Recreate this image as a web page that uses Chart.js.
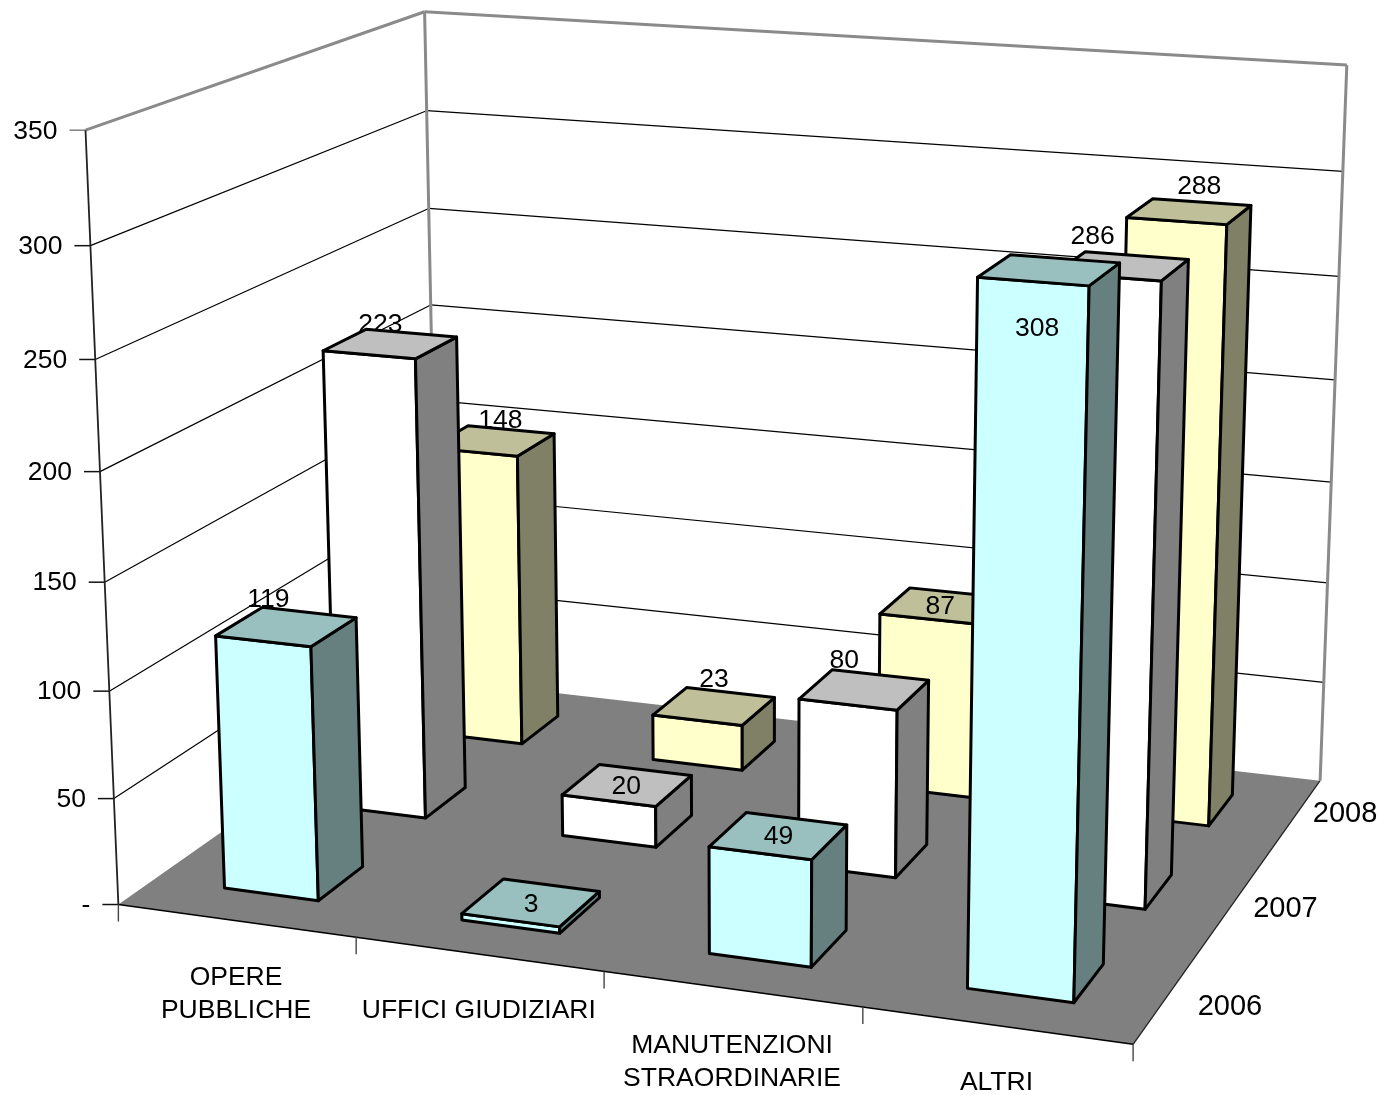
<!DOCTYPE html>
<html>
<head>
<meta charset="utf-8">
<style>html,body{margin:0;padding:0;background:#fff}canvas{display:block}</style>
<script src="https://cdn.jsdelivr.net/npm/chart.js@4"></script>
</head>
<body>
<canvas id="c" width="1384" height="1095"></canvas>
<script>
const categories = [['OPERE','PUBBLICHE'],['UFFICI GIUDIZIARI'],['MANUTENZIONI','STRAORDINARIE'],['ALTRI']];
const years = ['2006','2007','2008'];
const values2006 = [119, 3, 49, 308];
const values2007 = [223, 20, 80, 286];
const values2008 = [148, 23, 87, 288];

// styling per year: front, top, side
const faceColors = ['#CCFFFF','#FFFFFF','#FFFFCC'];
const topColors = ['#99BFBF','#BFBFBF','#BFBF99'];
const sideColors = ['#668080','#808080','#808066'];
// value-label nudges from the centre of each bar's top face, in pixels
const labelNudge = [
  [[-18,-27],[0,2],[0,1],[-12,59]],
  [[-10,-19],[-1,2],[-20,-29],[-30,-29]],
  [[8,-20],[0,-27],[-1,1],[10,-25]]
];
const labelBehindBar = [[0,0,0,0],[1,0,0,0],[1,0,0,0]];
// year-label nudges from the floor's right edge, in pixels
const yearNudge = [[61,13],[51,8],[52,-5]];

// The box of the 3D view: (u along categories, v up the value axis, w into depth) -> canvas
const viewBox = [
  [0,0,0,118,905],[1,0,0,1133,1044],[1,0,1,1320,781],[0,0,1,439,679],
  [0,1,0,86,130],[0,1,1,424,12],[1,1,1,1347,65]
];
const FAMILY = '"Liberation Sans", Arial, sans-serif';
const FONT = '26.5px ' + FAMILY;
const YEAR_FONT = '29px ' + FAMILY;
const depthPercentage = 0.4;

function solveCamera(pts){
  const A=[],b=[];
  for(const [X,Y,Z,px,py] of pts){
    const x=px/1000,y=py/1000;
    A.push([X,Y,Z,1,0,0,0,0,-x*X,-x*Y,-x*Z]);b.push(x);
    A.push([0,0,0,0,X,Y,Z,1,-y*X,-y*Y,-y*Z]);b.push(y);
  }
  const n=11,M=[];
  for(let i=0;i<n;i++){
    M[i]=new Array(n+1).fill(0);
    for(let j=0;j<n;j++)for(let k=0;k<A.length;k++)M[i][j]+=A[k][i]*A[k][j];
    for(let k=0;k<A.length;k++)M[i][n]+=A[k][i]*b[k];
  }
  for(let c=0;c<n;c++){
    let p=c;for(let r=c+1;r<n;r++)if(Math.abs(M[r][c])>Math.abs(M[p][c]))p=r;
    [M[c],M[p]]=[M[p],M[c]];
    for(let r=0;r<n;r++){if(r===c)continue;const f=M[r][c]/M[c][c];for(let k=c;k<=n;k++)M[r][k]-=f*M[c][k];}
  }
  return M.map((row,i)=>row[n]/row[i]);
}
const cam = solveCamera(viewBox);
function proj(u,v,w){
  const d=cam[8]*u+cam[9]*v+cam[10]*w+1;
  return [1000*(cam[0]*u+cam[1]*v+cam[2]*w+cam[3])/d, 1000*(cam[4]*u+cam[5]*v+cam[6]*w+cam[7])/d];
}
function poly(ctx,pts,fill,stroke,lw){
  ctx.beginPath();
  pts.forEach((p,i)=>i?ctx.lineTo(p[0],p[1]):ctx.moveTo(p[0],p[1]));
  ctx.closePath();
  if(fill){ctx.fillStyle=fill;ctx.fill();}
  if(stroke){ctx.strokeStyle=stroke;ctx.lineWidth=lw;ctx.stroke();}
}
function seg(ctx,a,b,color,lw){
  ctx.beginPath();ctx.moveTo(a[0],a[1]);ctx.lineTo(b[0],b[1]);ctx.strokeStyle=color;ctx.lineWidth=lw;ctx.stroke();
}
function text(ctx,s,x,y,align,font){
  ctx.font=font||FONT;ctx.fillStyle='#000';ctx.textAlign=align||'center';ctx.textBaseline='middle';ctx.fillText(s,x,y);
}

const view3d = {
  id:'view3d',
  beforeDatasetsDraw(chart){
    const {ctx,chartArea:a,scales:{x,y,z}}=chart;
    const V=val=>(a.bottom-y.getPixelForValue(val))/a.height;
    const U=px=>(px-a.left)/a.width;
    const W=px=>(px-a.left)/a.width;
    ctx.save();
    ctx.lineJoin='round';
    // floor
    poly(ctx,[proj(0,0,0),proj(1,0,0),proj(1,0,1),proj(0,0,1)],'#808080');
    seg(ctx,proj(0,0,0),proj(1,0,0),'#000',1.4);
    seg(ctx,proj(1,0,0),proj(1,0,1),'#222',1.3);
    // gridlines on the side and back walls
    y.ticks.forEach(t=>{
      const v=V(t.value);
      if(t.value>0&&t.value<y.max){
        seg(ctx,proj(0,v,0),proj(0,v,1),'#000',1.2);
        seg(ctx,proj(0,v,1),proj(1,v,1),'#000',1.2);
      }
      const p=proj(0,v,0);
      seg(ctx,[p[0]-16,p[1]],p,t.value===y.max?'#808080':'#111',1.5);
      text(ctx,t.label,p[0]-28,p[1]+1,'right');
    });
    // wall frame
    const g='#8a8a8a';
    seg(ctx,proj(0,1,0),proj(0,1,1),g,3);
    seg(ctx,proj(0,1,1),proj(1,1,1),g,3);
    seg(ctx,proj(1,1,1),proj(1,0,1),g,3);
    seg(ctx,proj(0,1,1),proj(0,0,1),g,3);
    seg(ctx,proj(0,1,0),proj(0,0,0),'#222',1.8);
    // category ticks and labels
    for(let i=0;i<=categories.length;i++){
      const p=proj(i/categories.length,0,0);
      seg(ctx,p,[p[0],p[1]+17],'#444',1.4);
    }
    x.ticks.forEach((t,i)=>{
      const p=proj(U(x.getPixelForTick(i)),0,0);
      [].concat(t.label).forEach((ln,k)=>text(ctx,ln,p[0],p[1]+57+k*33));
    });
    z.ticks.forEach((t,i)=>{
      const p=proj(1,0,W(z.getPixelForTick(i)));
      text(ctx,t.label,p[0]+yearNudge[i][0],p[1]+yearNudge[i][1],'center',YEAR_FONT);
    });
    ctx.restore();
  },
  beforeDatasetDraw(chart,args){
    const {ctx,chartArea:a,scales:{z}}=chart;
    const di=args.index, meta=args.meta;
    const rowSize=(z.width/z.ticks.length)/a.width;
    const wc=(z.getPixelForValue(di)-a.left)/a.width;
    const hw=rowSize*depthPercentage/2;
    ctx.save();
    ctx.lineJoin='round';
    meta.data.forEach((el,i)=>{
      const u0=(el.x-el.width/2-a.left)/a.width, u1=(el.x+el.width/2-a.left)/a.width;
      const v0=(a.bottom-el.base)/a.height, v1=(a.bottom-el.y)/a.height;
      const w0=wc-hw, w1=wc+hw;
      const c=proj((u0+u1)/2,v1,wc), n=labelNudge[di][i];
      const label=()=>text(ctx,String(chart.data.datasets[di].data[i]),c[0]+n[0],c[1]+n[1]);
      if(labelBehindBar[di][i]) label();
      const f=3;
      poly(ctx,[proj(u0,v0,w0),proj(u1,v0,w0),proj(u1,v1,w0),proj(u0,v1,w0)],faceColors[di],'#000',f);
      poly(ctx,[proj(u1,v0,w0),proj(u1,v0,w1),proj(u1,v1,w1),proj(u1,v1,w0)],sideColors[di],'#000',f);
      poly(ctx,[proj(u0,v1,w0),proj(u1,v1,w0),proj(u1,v1,w1),proj(u0,v1,w1)],topColors[di],'#000',f);
      if(!labelBehindBar[di][i]) label();
    });
    ctx.restore();
    return false;
  }
};

new Chart(document.getElementById('c'),{
  type:'bar',
  plugins:[view3d],
  data:{
    labels:categories,
    datasets:[
      {label:years[0],data:values2006},
      {label:years[1],data:values2007},
      {label:years[2],data:values2008}
    ]
  },
  options:{
    responsive:false,
    animation:false,
    events:[],
    layout:{padding:0},
    grouped:false,
    barPercentage:0.4,
    categoryPercentage:1,
    plugins:{legend:{display:false},tooltip:{enabled:false},title:{display:false}},
    scales:{
      x:{type:'category',display:false,offset:true},
      y:{type:'linear',display:false,min:0,max:350,ticks:{stepSize:50,callback:v=>v===0?'-':String(v)}},
      z:{type:'category',axis:'x',position:'top',display:false,offset:true,labels:years}
    }
  }
});
</script>
</body>
</html>
